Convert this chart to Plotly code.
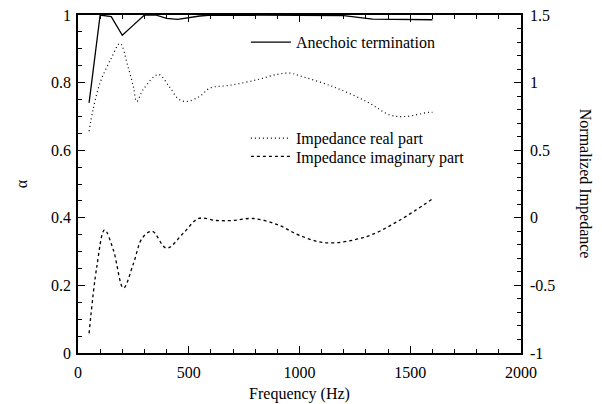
import plotly.graph_objects as go

# Anechoic termination absorption coefficient (left axis)
anech_f = [50, 100, 150, 200, 250, 300, 350, 400, 450, 500, 550, 600, 700, 800, 900, 1000, 1100, 1200, 1330, 1450, 1600]
anech_a = [0.74, 1.0, 0.995, 0.94, 0.97, 1.0, 1.0, 0.99, 0.987, 0.993, 0.997, 1.0, 1.0, 1.0, 1.0, 1.0, 1.0, 0.998, 0.988, 0.987, 0.986]

# Impedance real part (right axis)
real_f = [50, 68, 100, 150, 190, 225, 250, 265, 295, 363, 408, 453, 490, 551, 596, 686, 806, 897, 957, 1002, 1151, 1303, 1409, 1484, 1582, 1600]
real_z = [0.64, 0.80, 1.00, 1.18, 1.29, 1.12, 0.97, 0.86, 0.95, 1.06, 0.98, 0.88, 0.86, 0.90, 0.96, 0.98, 1.02, 1.06, 1.07, 1.05, 0.97, 0.86, 0.76, 0.75, 0.78, 0.78]

# Impedance imaginary part (right axis)
imag_f = [50, 85, 120, 160, 205, 250, 290, 335, 400, 475, 545, 625, 700, 790, 900, 1000, 1120, 1300, 1450, 1600]
imag_z = [-0.855, -0.36, -0.09, -0.24, -0.52, -0.34, -0.15, -0.10, -0.225, -0.115, -0.005, -0.02, -0.02, -0.005, -0.05, -0.13, -0.185, -0.14, -0.02, 0.14]

left_ticks = [0, 0.2, 0.4, 0.6, 0.8, 1]
left_text = ["0", "0.2", "0.4", "0.6", "0.8", "1"]
right_ticks = [-1, -0.5, 0, 0.5, 1, 1.5]
right_text = ["-1", "-0.5", "0", "0.5", "1", "1.5"]
x_ticks = [0, 500, 1000, 1500, 2000]

FONT = "Liberation Serif"

fig = go.Figure()
fig.add_trace(go.Scatter(x=anech_f, y=anech_a, mode="lines", name="Anechoic termination",
                         line=dict(color="black", width=1.3), legend="legend"))
fig.add_trace(go.Scatter(x=real_f, y=real_z, mode="lines", name="Impedance real part",
                         line=dict(color="black", width=1.2, dash="1px,3px", shape="spline"),
                         yaxis="y2", legend="legend2"))
fig.add_trace(go.Scatter(x=imag_f, y=imag_z, mode="lines", name="Impedance imaginary part",
                         line=dict(color="black", width=1.3, dash="3px,3px", shape="spline"),
                         yaxis="y2", legend="legend3"))

axis_common = dict(showgrid=False, zeroline=False, showline=True, linecolor="black", linewidth=1.5,
                   ticks="inside", ticklen=7, tickcolor="black", tickwidth=1.3, automargin=False,
                   tickfont=dict(family=FONT, size=16, color="black"))

leg_common = dict(xanchor="left", yanchor="top", bgcolor="rgba(0,0,0,0)", itemwidth=40,
                  font=dict(family=FONT, size=16, color="black"))

fig.update_layout(
    width=602, height=404,
    margin=dict(l=78, r=81, t=15, b=51, autoexpand=False),
    paper_bgcolor="white", plot_bgcolor="white",
    font=dict(family=FONT, color="black"),
    xaxis=dict(range=[0, 2000], tickvals=x_ticks, mirror="ticks", ticklabelstandoff=4,
               minor=dict(dtick=100, ticks="inside", ticklen=4, tickcolor="black"),
               title=dict(text="Frequency (Hz)", font=dict(family=FONT, size=16), standoff=8),
               **axis_common),
    yaxis=dict(range=[0, 1], tickvals=left_ticks, ticktext=left_text, ticklabelstandoff=2,
               minor=dict(dtick=0.05, ticks="inside", ticklen=4, tickcolor="black"),
               title=dict(text="α", font=dict(family=FONT, size=16), standoff=19),
               **axis_common),
    yaxis2=dict(range=[-1, 1.5], tickvals=right_ticks, ticktext=right_text, ticklabelstandoff=4,
                overlaying="y", side="right",
                minor=dict(dtick=0.1, ticks="inside", ticklen=4, tickcolor="black"),
                **axis_common),
    legend=dict(x=0.379, y=0.97, **leg_common),
    legend2=dict(x=0.379, y=0.686, **leg_common),
    legend3=dict(x=0.379, y=0.632, **leg_common),
    showlegend=True,
)

fig.add_annotation(text="Normalized Impedance", textangle=90, xref="paper", yref="paper",
                   x=1.145, y=0.5, showarrow=False, xanchor="center", yanchor="middle",
                   font=dict(family=FONT, size=16, color="black"))

fig.write_html("out.html", config={"displayModeBar": False},
               post_script="document.body.style.margin='0';")
